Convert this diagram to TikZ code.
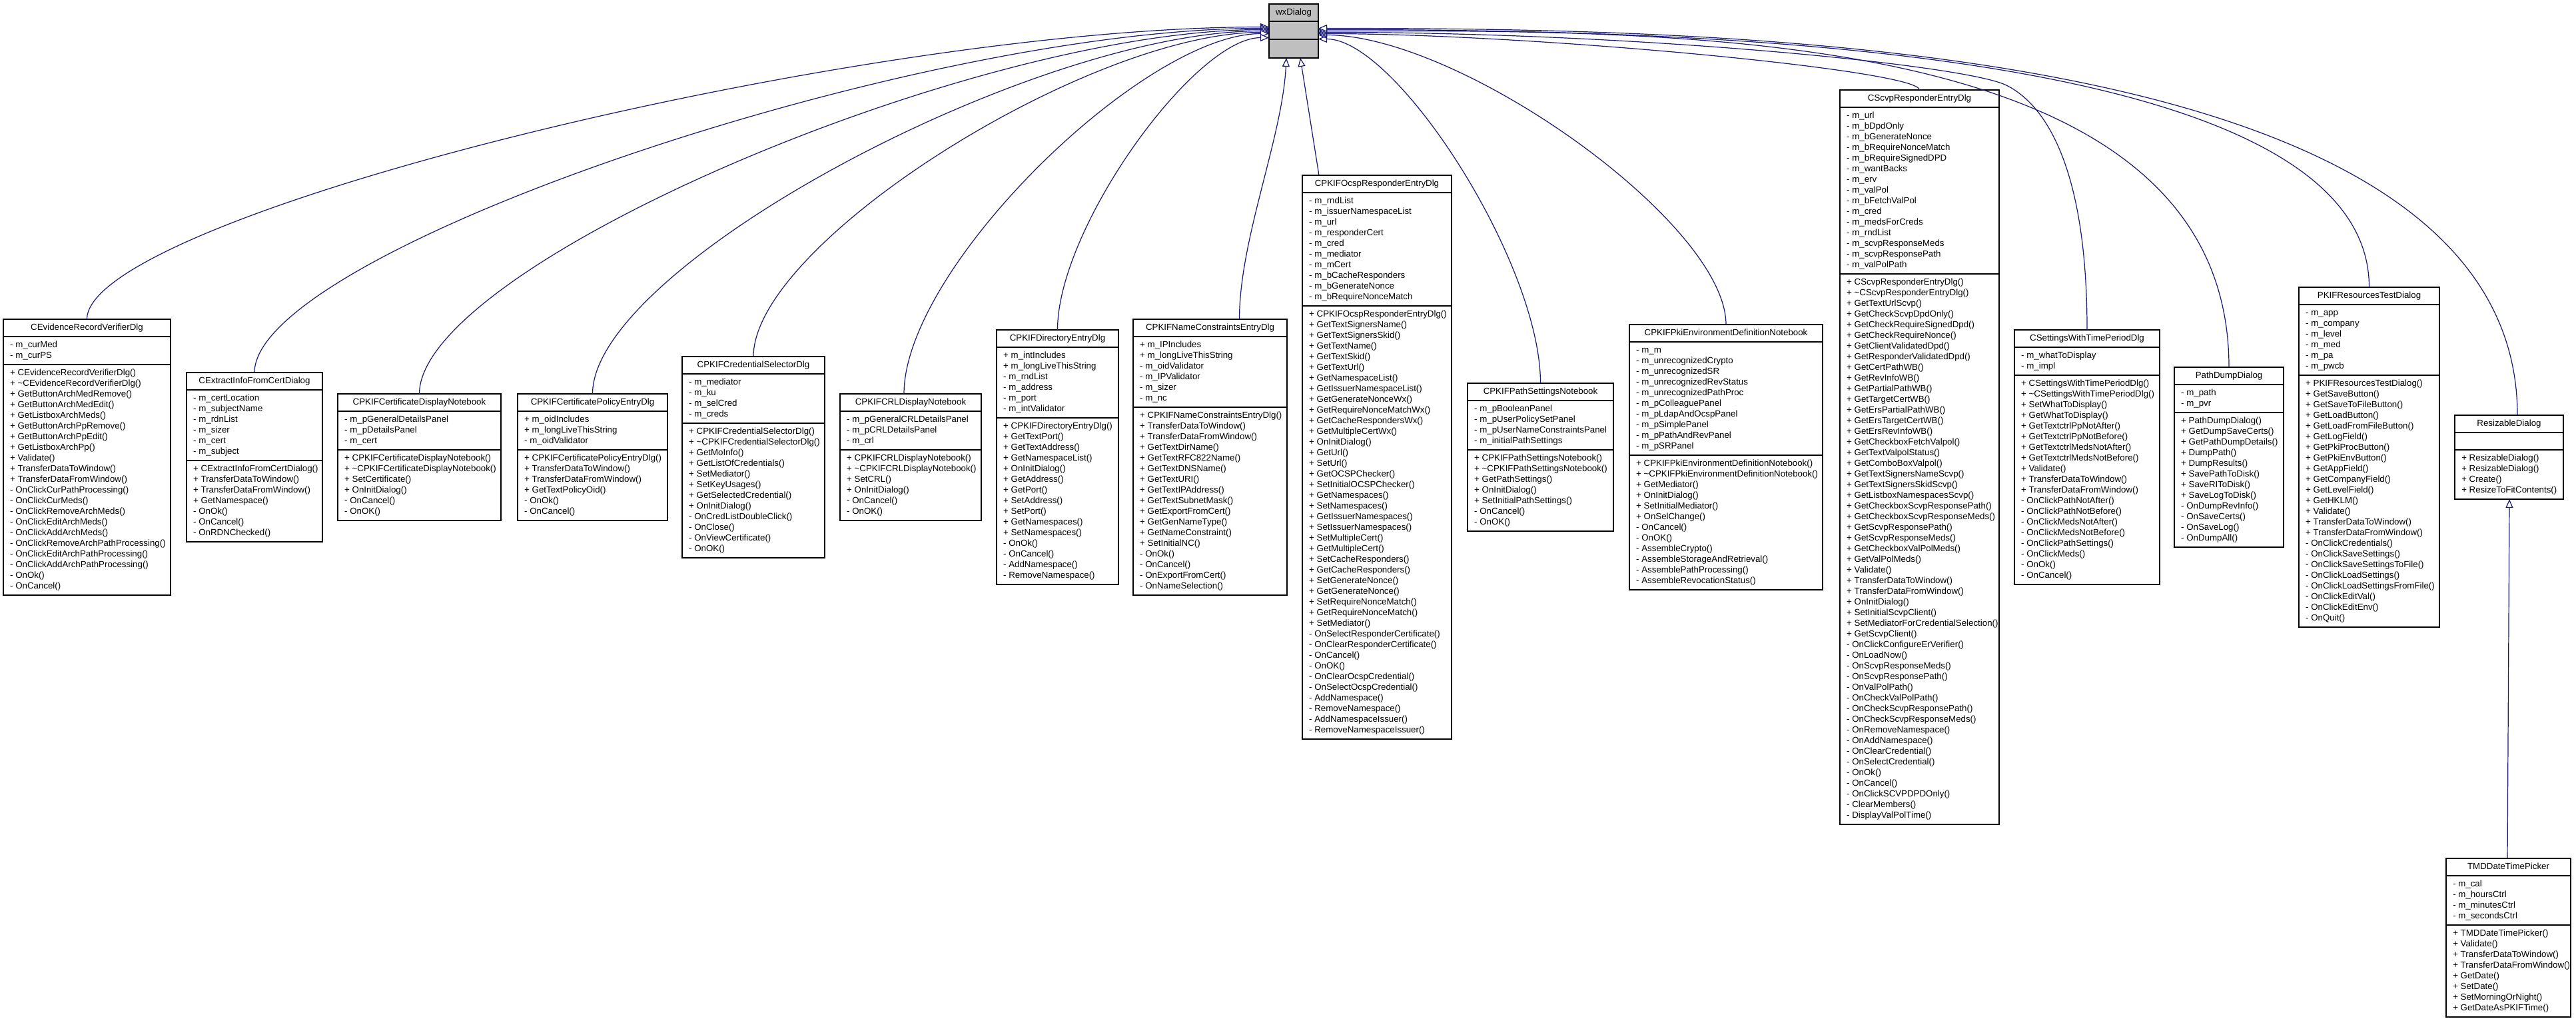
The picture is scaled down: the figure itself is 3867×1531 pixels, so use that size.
\documentclass[tikz,border=0pt]{standalone}
\usepackage{fontspec}
\setmainfont{Liberation Sans}
\usetikzlibrary{arrows.meta}
\newcommand\tld{\textasciitilde}
\definecolor{edgeblue}{HTML}{191970}
\definecolor{wxgray}{HTML}{BFBFBF}
% #1 name, #2 x1, #3 x2, #4 ycenter, #5 title, #6 nattr, #7 attrs, #8 nmeth, #9 methods
\newcommand\classbox[9]{%
  \pgfmathsetmacro\cbH{46+16*(#6+#8)}%
  \pgfmathsetmacro\cbT{#4-\cbH/2}%
  \pgfmathsetmacro\cbA{\cbT+26}%
  \pgfmathsetmacro\cbM{\cbA+16*#6+10}%
  \pgfmathsetmacro\cbW{#3-#2}%
  \pgfmathsetmacro\cbC{(#2+#3)/2}%
  \node[umlbox, minimum width=\cbW pt, minimum height=\cbH pt, anchor=north west] (#1) at (#2,\cbT) {};
  \draw[sepline] (#2,\cbA) -- (#3,\cbA);
  \draw[sepline] (#2,\cbM) -- (#3,\cbM);
  \node[ctitle] (#1-t) at (\cbC,\cbT+5) {\strut #5};
  \node[clines] (#1-a) at (#2+10,\cbA+5) {\strut #7};
  \node[clines] (#1-m) at (#2+10,\cbM+5) {\strut #9};
}
\begin{document}
\begin{tikzpicture}[x=1pt,y=-1pt,
  umlbox/.style={draw=black, line width=1.2pt, fill=white, inner sep=0pt, outer sep=0pt, rectangle},
  sepline/.style={draw=black, line width=1.2pt},
  ctitle/.style={anchor=north, inner sep=0pt, font=\fontsize{13.3}{16}\selectfont},
  clines/.style={anchor=north west, inner sep=0pt, align=left, font=\fontsize{13.3}{16}\selectfont},
  inh/.style={draw=edgeblue, line width=1.2pt, -{Triangle[open, length=13pt, width=11pt, fill=white]}}]
\useasboundingbox (0,0) rectangle (3867,1531);
\fill[white] (0,0) rectangle (3867,1531);

% base class
\node[umlbox, fill=wxgray, minimum width=74pt, minimum height=81pt, anchor=north west] (wx) at (1905,6) {};
\draw[sepline] (1905,32) -- (1979,32);
\draw[sepline] (1905,59) -- (1979,59);
\node[ctitle] (wx-t) at (1942,11) {\strut wxDialog};

\classbox{cev}{5}{256}{686}{CEvidenceRecordVerifierDlg}{2}{- m\_curMed\\- m\_curPS}{21}{%
+ CEvidenceRecordVerifierDlg()\\
+ \tld CEvidenceRecordVerifierDlg()\\
+ GetButtonArchMedRemove()\\
+ GetButtonArchMedEdit()\\
+ GetListboxArchMeds()\\
+ GetButtonArchPpRemove()\\
+ GetButtonArchPpEdit()\\
+ GetListboxArchPp()\\
+ Validate()\\
+ TransferDataToWindow()\\
+ TransferDataFromWindow()\\
- OnClickCurPathProcessing()\\
- OnClickCurMeds()\\
- OnClickRemoveArchMeds()\\
- OnClickEditArchMeds()\\
- OnClickAddArchMeds()\\
- OnClickRemoveArchPathProcessing()\\
- OnClickEditArchPathProcessing()\\
- OnClickAddArchPathProcessing()\\
- OnOk()\\
- OnCancel()}

\classbox{cex}{280}{484}{686}{CExtractInfoFromCertDialog}{6}{- m\_certLocation\\- m\_subjectName\\- m\_rdnList\\- m\_sizer\\- m\_cert\\- m\_subject}{7}{%
+ CExtractInfoFromCertDialog()\\
+ TransferDataToWindow()\\
+ TransferDataFromWindow()\\
+ GetNamespace()\\
- OnOk()\\
- OnCancel()\\
- OnRDNChecked()}

\classbox{cdn}{507}{752}{686}{CPKIFCertificateDisplayNotebook}{3}{- m\_pGeneralDetailsPanel\\- m\_pDetailsPanel\\- m\_cert}{6}{%
+ CPKIFCertificateDisplayNotebook()\\
+ \tld CPKIFCertificateDisplayNotebook()\\
+ SetCertificate()\\
+ OnInitDialog()\\
- OnCancel()\\
- OnOK()}

\classbox{cpe}{777}{1002}{686}{CPKIFCertificatePolicyEntryDlg}{3}{+ m\_oidIncludes\\+ m\_longLiveThisString\\- m\_oidValidator}{6}{%
+ CPKIFCertificatePolicyEntryDlg()\\
+ TransferDataToWindow()\\
+ TransferDataFromWindow()\\
+ GetTextPolicyOid()\\
- OnOk()\\
- OnCancel()}

\classbox{cse}{1024}{1238}{686}{CPKIFCredentialSelectorDlg}{4}{- m\_mediator\\- m\_ku\\- m\_selCred\\- m\_creds}{12}{%
+ CPKIFCredentialSelectorDlg()\\
+ \tld CPKIFCredentialSelectorDlg()\\
+ GetMoInfo()\\
+ GetListOfCredentials()\\
+ SetMediator()\\
+ SetKeyUsages()\\
+ GetSelectedCredential()\\
+ OnInitDialog()\\
- OnCredListDoubleClick()\\
- OnClose()\\
- OnViewCertificate()\\
- OnOK()}

\classbox{crl}{1261}{1473}{686}{CPKIFCRLDisplayNotebook}{3}{- m\_pGeneralCRLDetailsPanel\\- m\_pCRLDetailsPanel\\- m\_crl}{6}{%
+ CPKIFCRLDisplayNotebook()\\
+ \tld CPKIFCRLDisplayNotebook()\\
+ SetCRL()\\
+ OnInitDialog()\\
- OnCancel()\\
- OnOK()}

\classbox{dir}{1496}{1679}{686}{CPKIFDirectoryEntryDlg}{6}{+ m\_intIncludes\\+ m\_longLiveThisString\\- m\_rndList\\- m\_address\\- m\_port\\- m\_intValidator}{15}{%
+ CPKIFDirectoryEntryDlg()\\
+ GetTextPort()\\
+ GetTextAddress()\\
+ GetNamespaceList()\\
+ OnInitDialog()\\
+ GetAddress()\\
+ GetPort()\\
+ SetAddress()\\
+ SetPort()\\
+ GetNamespaces()\\
+ SetNamespaces()\\
- OnOk()\\
- OnCancel()\\
- AddNamespace()\\
- RemoveNamespace()}

\classbox{nc}{1701}{1932}{686}{CPKIFNameConstraintsEntryDlg}{6}{+ m\_IPIncludes\\+ m\_longLiveThisString\\- m\_oidValidator\\- m\_IPValidator\\- m\_sizer\\- m\_nc}{17}{%
+ CPKIFNameConstraintsEntryDlg()\\
+ TransferDataToWindow()\\
+ TransferDataFromWindow()\\
+ GetTextDirName()\\
+ GetTextRFC822Name()\\
+ GetTextDNSName()\\
+ GetTextURI()\\
+ GetTextIPAddress()\\
+ GetTextSubnetMask()\\
+ GetExportFromCert()\\
+ GetGenNameType()\\
+ GetNameConstraint()\\
+ SetInitialNC()\\
- OnOk()\\
- OnCancel()\\
- OnExportFromCert()\\
- OnNameSelection()}

\classbox{ocsp}{1955}{2179}{686}{CPKIFOcspResponderEntryDlg}{10}{- m\_rndList\\- m\_issuerNamespaceList\\- m\_url\\- m\_responderCert\\- m\_cred\\- m\_mediator\\- m\_mCert\\- m\_bCacheResponders\\- m\_bGenerateNonce\\- m\_bRequireNonceMatch}{40}{%
+ CPKIFOcspResponderEntryDlg()\\
+ GetTextSignersName()\\
+ GetTextSignersSkid()\\
+ GetTextName()\\
+ GetTextSkid()\\
+ GetTextUrl()\\
+ GetNamespaceList()\\
+ GetIssuerNamespaceList()\\
+ GetGenerateNonceWx()\\
+ GetRequireNonceMatchWx()\\
+ GetCacheRespondersWx()\\
+ GetMultipleCertWx()\\
+ OnInitDialog()\\
+ GetUrl()\\
+ SetUrl()\\
+ GetOCSPChecker()\\
+ SetInitialOCSPChecker()\\
+ GetNamespaces()\\
+ SetNamespaces()\\
+ GetIssuerNamespaces()\\
+ SetIssuerNamespaces()\\
+ SetMultipleCert()\\
+ GetMultipleCert()\\
+ SetCacheResponders()\\
+ GetCacheResponders()\\
+ SetGenerateNonce()\\
+ GetGenerateNonce()\\
+ SetRequireNonceMatch()\\
+ GetRequireNonceMatch()\\
+ SetMediator()\\
- OnSelectResponderCertificate()\\
- OnClearResponderCertificate()\\
- OnCancel()\\
- OnOK()\\
- OnClearOcspCredential()\\
- OnSelectOcspCredential()\\
- AddNamespace()\\
- RemoveNamespace()\\
- AddNamespaceIssuer()\\
- RemoveNamespaceIssuer()}

\classbox{pse}{2203}{2422}{686}{CPKIFPathSettingsNotebook}{4}{- m\_pBooleanPanel\\- m\_pUserPolicySetPanel\\- m\_pUserNameConstraintsPanel\\- m\_initialPathSettings}{7}{%
+ CPKIFPathSettingsNotebook()\\
+ \tld CPKIFPathSettingsNotebook()\\
+ GetPathSettings()\\
+ OnInitDialog()\\
+ SetInitialPathSettings()\\
- OnCancel()\\
- OnOK()}

\classbox{pki}{2446}{2736}{686}{CPKIFPkiEnvironmentDefinitionNotebook}{10}{- m\_m\\- m\_unrecognizedCrypto\\- m\_unrecognizedSR\\- m\_unrecognizedRevStatus\\- m\_unrecognizedPathProc\\- m\_pColleaguePanel\\- m\_pLdapAndOcspPanel\\- m\_pSimplePanel\\- m\_pPathAndRevPanel\\- m\_pSRPanel}{12}{%
+ CPKIFPkiEnvironmentDefinitionNotebook()\\
+ \tld CPKIFPkiEnvironmentDefinitionNotebook()\\
+ GetMediator()\\
+ OnInitDialog()\\
+ SetInitialMediator()\\
+ OnSelChange()\\
- OnCancel()\\
- OnOK()\\
- AssembleCrypto()\\
- AssembleStorageAndRetrieval()\\
- AssemblePathProcessing()\\
- AssembleRevocationStatus()}

\classbox{scv}{2762}{3001}{686}{CScvpResponderEntryDlg}{15}{- m\_url\\- m\_bDpdOnly\\- m\_bGenerateNonce\\- m\_bRequireNonceMatch\\- m\_bRequireSignedDPD\\- m\_wantBacks\\- m\_erv\\- m\_valPol\\- m\_bFetchValPol\\- m\_cred\\- m\_medsForCreds\\- m\_rndList\\- m\_scvpResponseMeds\\- m\_scvpResponsePath\\- m\_valPolPath}{51}{%
+ CScvpResponderEntryDlg()\\
+ \tld CScvpResponderEntryDlg()\\
+ GetTextUrlScvp()\\
+ GetCheckScvpDpdOnly()\\
+ GetCheckRequireSignedDpd()\\
+ GetCheckRequireNonce()\\
+ GetClientValidatedDpd()\\
+ GetResponderValidatedDpd()\\
+ GetCertPathWB()\\
+ GetRevInfoWB()\\
+ GetPartialPathWB()\\
+ GetTargetCertWB()\\
+ GetErsPartialPathWB()\\
+ GetErsTargetCertWB()\\
+ GetErsRevInfoWB()\\
+ GetCheckboxFetchValpol()\\
+ GetTextValpolStatus()\\
+ GetComboBoxValpol()\\
+ GetTextSignersNameScvp()\\
+ GetTextSignersSkidScvp()\\
+ GetListboxNamespacesScvp()\\
+ GetCheckboxScvpResponsePath()\\
+ GetCheckboxScvpResponseMeds()\\
+ GetScvpResponsePath()\\
+ GetScvpResponseMeds()\\
+ GetCheckboxValPolMeds()\\
+ GetValPolMeds()\\
+ Validate()\\
+ TransferDataToWindow()\\
+ TransferDataFromWindow()\\
+ OnInitDialog()\\
+ SetInitialScvpClient()\\
+ SetMediatorForCredentialSelection()\\
+ GetScvpClient()\\
- OnClickConfigureErVerifier()\\
- OnLoadNow()\\
- OnScvpResponseMeds()\\
- OnScvpResponsePath()\\
- OnValPolPath()\\
- OnCheckValPolPath()\\
- OnCheckScvpResponsePath()\\
- OnCheckScvpResponseMeds()\\
- OnRemoveNamespace()\\
- OnAddNamespace()\\
- OnClearCredential()\\
- OnSelectCredential()\\
- OnOk()\\
- OnCancel()\\
- OnClickSCVPDPDOnly()\\
- ClearMembers()\\
- DisplayValPolTime()}

\classbox{cst}{3024}{3242}{686}{CSettingsWithTimePeriodDlg}{2}{- m\_whatToDisplay\\- m\_impl}{19}{%
+ CSettingsWithTimePeriodDlg()\\
+ \tld CSettingsWithTimePeriodDlg()\\
+ SetWhatToDisplay()\\
+ GetWhatToDisplay()\\
+ GetTextctrlPpNotAfter()\\
+ GetTextctrlPpNotBefore()\\
+ GetTextctrlMedsNotAfter()\\
+ GetTextctrlMedsNotBefore()\\
+ Validate()\\
+ TransferDataToWindow()\\
+ TransferDataFromWindow()\\
- OnClickPathNotAfter()\\
- OnClickPathNotBefore()\\
- OnClickMedsNotAfter()\\
- OnClickMedsNotBefore()\\
- OnClickPathSettings()\\
- OnClickMeds()\\
- OnOk()\\
- OnCancel()}

\classbox{pdd}{3264}{3428}{686}{PathDumpDialog}{2}{- m\_path\\- m\_pvr}{12}{%
+ PathDumpDialog()\\
+ GetDumpSaveCerts()\\
+ GetPathDumpDetails()\\
+ DumpPath()\\
+ DumpResults()\\
+ SavePathToDisk()\\
+ SaveRIToDisk()\\
+ SaveLogToDisk()\\
- OnDumpRevInfo()\\
- OnSaveCerts()\\
- OnSaveLog()\\
- OnDumpAll()}

\classbox{prt}{3451}{3662}{686}{PKIFResourcesTestDialog}{6}{- m\_app\\- m\_company\\- m\_level\\- m\_med\\- m\_pa\\- m\_pwcb}{23}{%
+ PKIFResourcesTestDialog()\\
+ GetSaveButton()\\
+ GetSaveToFileButton()\\
+ GetLoadButton()\\
+ GetLoadFromFileButton()\\
+ GetLogField()\\
+ GetPkiProcButton()\\
+ GetPkiEnvButton()\\
+ GetAppField()\\
+ GetCompanyField()\\
+ GetLevelField()\\
+ GetHKLM()\\
+ Validate()\\
+ TransferDataToWindow()\\
+ TransferDataFromWindow()\\
- OnClickCredentials()\\
- OnClickSaveSettings()\\
- OnClickSaveSettingsToFile()\\
- OnClickLoadSettings()\\
- OnClickLoadSettingsFromFile()\\
- OnClickEditVal()\\
- OnClickEditEnv()\\
- OnQuit()}

\classbox{rsz}{3685}{3848}{686}{ResizableDialog}{1}{}{4}{%
+ ResizableDialog()\\
+ ResizableDialog()\\
+ Create()\\
+ ResizeToFitContents()}

\classbox{tmd}{3672}{3859}{1407}{TMDDateTimePicker}{4}{- m\_cal\\- m\_hoursCtrl\\- m\_minutesCtrl\\- m\_secondsCtrl}{8}{%
+ TMDDateTimePicker()\\
+ Validate()\\
+ TransferDataToWindow()\\
+ TransferDataFromWindow()\\
+ GetDate()\\
+ SetDate()\\
+ SetMorningOrNight()\\
+ GetDateAsPKIFTime()}

% inheritance edges, left side
\draw[inh] (cev.north) .. controls +(0,-154) and +(-621,0) .. ([yshift=6pt]wx.west);
\draw[inh] (cex.north) .. controls +(0,-181) and +(-533,0) .. ([yshift=4pt]wx.west);
\draw[inh] (cdn.north) .. controls +(0,-191) and +(-446,0) .. ([yshift=2pt]wx.west);
\draw[inh] (cpe.north) .. controls +(0,-191) and +(-355,0) .. ([yshift=0pt]wx.west);
\draw[inh] (cse.north) .. controls +(0,-170) and +(-271,0) .. ([yshift=-2pt]wx.west);
\draw[inh] ([xshift=-10pt]crl.north) .. controls +(0,-189) and +(-188,0) .. ([yshift=-4pt]wx.west);
\draw[inh] (dir.north) .. controls +(0,-154) and +(-111,0) .. ([yshift=-10pt]wx.west);
% from below
\draw[inh] ([xshift=44pt]nc.north) .. controls +(0,-120) and +(-6,120) .. ([xshift=-11pt]wx.south);
\draw[inh] ([xshift=-87pt]ocsp.north) -- ([xshift=10pt]wx.south);
% right side
\draw[inh] (pse.north) .. controls +(0,-181) and +(117,0) .. ([yshift=-12pt]wx.east);
\draw[inh] (pki.north) .. controls +(0,-152) and +(214,0) .. ([yshift=-6pt]wx.east);
\draw[inh] (scv.north) .. controls +(0,-30) and +(316,0) .. ([yshift=-4pt]wx.east);
\coordinate (kc) at (3012,128);
\draw[inh] (cst.north) .. controls (3133,250) and (3070,157) .. (kc)
  .. controls (2950,97) and (2450,48) .. ([yshift=-2pt]wx.east);
\draw[inh] (pdd.north) .. controls +(0,-521) and +(521,0) .. ([yshift=0pt]wx.east);
\draw[inh] (prt.north) .. controls +(0,-371) and +(521,0) .. ([yshift=2pt]wx.east);
\draw[inh] ([xshift=12.5pt]rsz.north) .. controls +(0,-563) and +(621,0) .. ([yshift=4pt]wx.east);
% second level
\draw[inh] ([xshift=-1.5pt]tmd.north) -- ([xshift=0.5pt]rsz.south);
\end{tikzpicture}
\end{document}
